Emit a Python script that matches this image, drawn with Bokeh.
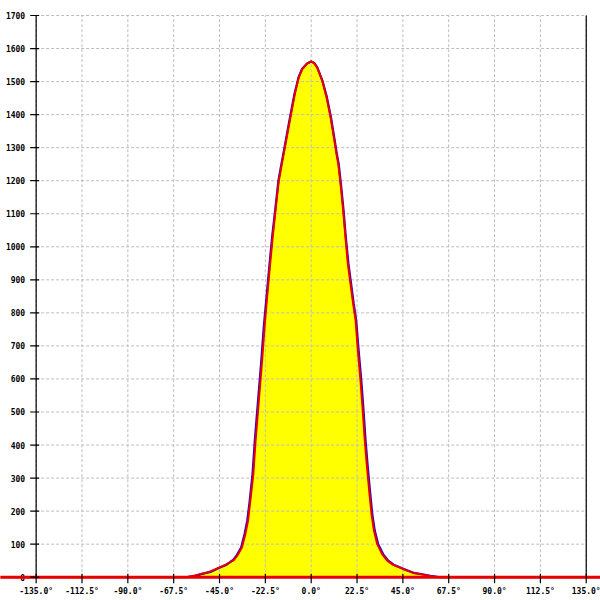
from bokeh.plotting import figure
from bokeh.models import Range1d
from bokeh.core.properties import value
from bokeh.embed import file_html
from bokeh.resources import INLINE

# ---- data ----
red_deg = [-180, -64, -61, -58, -54, -50, -45, -42, -39.6, -38, -36.3, -34, -32.3, -31, -30, -28.4,
           -27.3, -25.7, -24.1, -22.9, -21.8, -20.3, -18.9, -17.5, -15.9, -14.7, -12.6, -10.2, -8,
           -6.1, -4.4, -2, 0, 1.5, 2.9, 5.4, 7.5, 9.5, 11.1, 12.4, 13.3, 14.4, 15.7, 16.8, 18, 19.3,
           20.6, 21.8, 22.9, 24.2, 25.3, 26.3, 27.4, 28.6, 29.6, 30.8, 32.4, 34.8, 37.3, 40, 45, 50,
           54, 58, 61, 64, 180]
red_val = [0, 0, 1, 4, 10, 16, 30, 38, 46, 52, 65, 90, 131, 171, 225, 312,
           413, 534, 655, 756, 837, 938, 1029, 1110, 1200, 1241, 1311, 1392, 1463,
           1513, 1538, 1555, 1561, 1556, 1543, 1503, 1453, 1392, 1332, 1281, 1251, 1190, 1110, 1029, 948, 888,
           827, 777, 686, 595, 504, 413, 332, 252, 191, 141, 100, 70, 50, 38, 25, 13,
           9, 4, 1, 0, 0]

blue_deg = [-63, -60, -57, -53.5, -49.5, -44.5, -41.5, -39.8, -38.3, -36.7, -34.4, -32.7, -31.4, -30.3,
            -28.8, -27.7, -26.1, -24.5, -23.3, -22.1, -20.6, -19.2, -17.7, -16.1, -14.9, -12.8, -10.4,
            -8.2, -6.2, -4.5, -2, 0, 1.5, 3.0, 5.5, 7.7, 9.7, 11.3, 12.6, 13.5, 14.6, 15.9, 17.0, 18.3,
            19.6, 20.9, 22.1, 23.3, 24.6, 25.7, 26.7, 27.8, 29.0, 30.0, 31.2, 32.9, 35.3, 37.8, 40.5,
            45.5, 50.5, 54.5, 58.5, 62, 64]
blue_val = [0, 1, 4, 10, 16, 30, 38, 46, 52, 65, 90, 131, 171, 225,
            312, 413, 534, 655, 756, 837, 938, 1029, 1110, 1200, 1241, 1311, 1392,
            1463, 1513, 1538, 1555, 1561, 1556, 1543, 1503, 1453, 1392, 1332, 1281, 1251, 1190, 1110, 1029, 948,
            888, 827, 777, 686, 595, 504, 413, 332, 252, 191, 141, 100, 70, 50, 38,
            25, 13, 9, 4, 1, 0]

x_ticks = [-135, -112.5, -90, -67.5, -45, -22.5, 0, 22.5, 45, 67.5, 90, 112.5, 135]
x_labels = ["-135.0°", "-112.5°", "-90.0°", "-67.5°", "-45.0°", "-22.5°", "0.0°",
            "22.5°", "45.0°", "67.5°", "90.0°", "112.5°", "135.0°"]
y_ticks = [0, 100, 200, 300, 400, 500, 600, 700, 800, 900, 1000, 1100, 1200, 1300, 1400, 1500, 1600, 1700]
y_labels = [str(v) for v in y_ticks]

X_MIN, X_MAX = x_ticks[0], x_ticks[-1]
Y_MIN, Y_MAX = y_ticks[0], y_ticks[-1]

# ---- figure: frame covers the whole canvas ----
p = figure(width=600, height=600, output_backend="svg", toolbar_location=None,
           x_range=Range1d(-152.5, 142.0), y_range=Range1d(-70.5, 1745.4),
           x_axis_type=None, y_axis_type=None, min_border=0)
p.outline_line_color = None
p.background_fill_color = "white"
p.border_fill_color = "white"

PX_X = 1 / 2.037   # degrees per pixel
PX_Y = 1 / 0.3304  # units per pixel

# fill
p.varea(x=red_deg, y1=[0] * len(red_deg), y2=red_val, fill_color="#ffff00")

# grid
grid_color = "#bdbdbd"
p.segment(x0=x_ticks, y0=[Y_MIN] * len(x_ticks), x1=x_ticks, y1=[Y_MAX] * len(x_ticks),
          line_color=grid_color, line_width=1, line_dash="3 2")
p.segment(x0=[X_MIN] * len(y_ticks), y0=y_ticks, x1=[X_MAX] * len(y_ticks), y1=y_ticks,
          line_color=grid_color, line_width=1, line_dash="3 2")

# axis lines
p.segment(x0=[X_MIN, X_MAX, X_MIN], y0=[Y_MIN, Y_MIN, Y_MIN],
          x1=[X_MIN, X_MAX, X_MAX], y1=[Y_MAX, Y_MAX, Y_MIN],
          line_color="black", line_width=1.2)

# y tick labels (drawn before red line so the "0" sits under it)
p.text(x=[X_MIN] * len(y_ticks), y=y_ticks, text=y_labels, x_offset=-11,
       text_align="right", text_baseline="middle", text_font=value("DejaVu Sans Mono"),
       text_font_size="8px", text_font_style="bold", text_color="black")

# curves
p.line(blue_deg, blue_val, line_color="#2a00d0", line_width=2.2)
p.line(red_deg, red_val, line_color="#e80000", line_width=2)
p.line(red_deg, [0] * len(red_deg), line_color="#e80000", line_width=3)

# ticks
p.segment(x0=[X_MIN - 6 * PX_X] * len(y_ticks), y0=y_ticks,
          x1=[X_MIN + 3 * PX_X] * len(y_ticks), y1=y_ticks, line_color="black", line_width=1.2)
p.segment(x0=x_ticks, y0=[Y_MIN - 6 * PX_Y] * len(x_ticks),
          x1=x_ticks, y1=[Y_MIN + 3.5 * PX_Y] * len(x_ticks), line_color="black", line_width=1.2)

# x tick labels
p.text(x=x_ticks, y=[Y_MIN] * len(x_ticks), text=x_labels, y_offset=14,
       text_align="center", text_baseline="middle", text_font=value("DejaVu Sans Mono"),
       text_font_size="8px", text_font_style="bold", text_color="black")

open("out.html", "w").write(file_html(p, INLINE))
